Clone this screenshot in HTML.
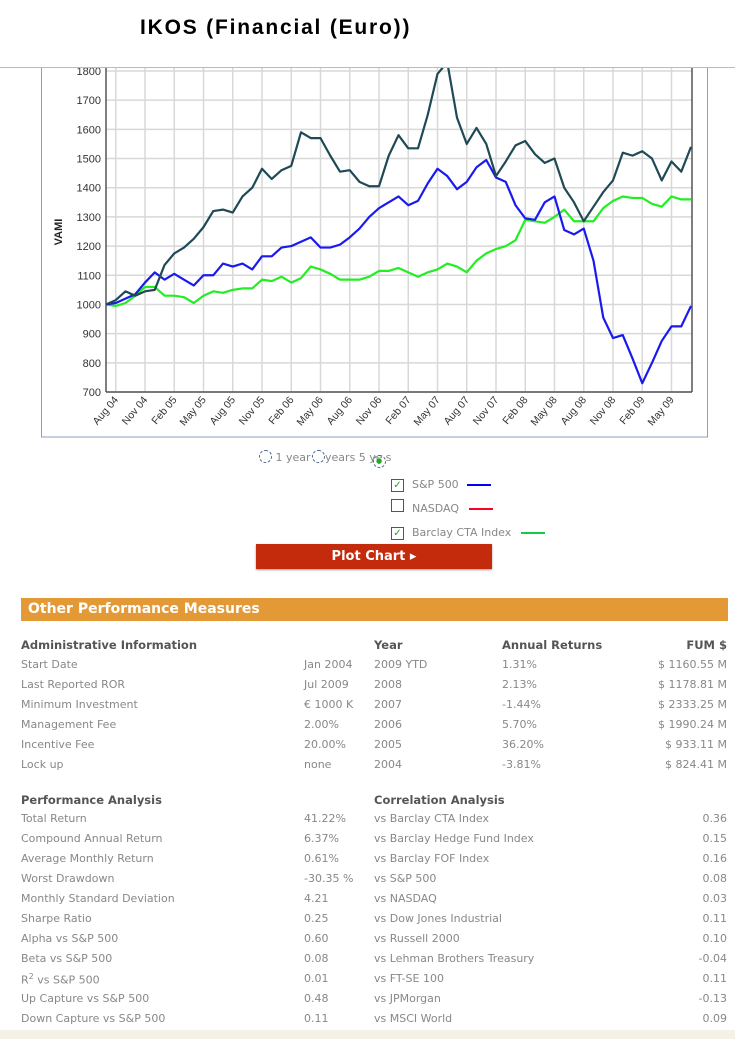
<!DOCTYPE html>
<html><head><meta charset="utf-8">
<style>
body{margin:0;width:735px;height:1039px;background:#fff;position:relative;overflow:hidden;font-family:"DejaVu Sans","Liberation Sans",sans-serif;}
.a{position:absolute;white-space:nowrap;}
.t{font-size:11px;color:#888;}
.h{font-size:11.5px;color:#555;font-weight:bold;}
.r{text-align:right;}
</style></head><body>
<svg id="chart" class="a" style="left:0;top:0" width="735" height="445"></svg>
<div class="a" style="left:0;top:0;width:735px;height:67px;background:#fff;border-bottom:1px solid #bbb;z-index:2"></div>
<div class="a" style="left:140px;top:16px;font:bold 21px 'Liberation Sans',sans-serif;letter-spacing:1.8px;color:#000;z-index:3">IKOS (Financial (Euro))</div>

<div class="a t" style="left:259px;top:450px;font-size:11px;">
<span style="display:inline-block;width:11px;height:11px;border:1px dashed #4a6a90;border-radius:50%;vertical-align:-2px;"></span> 1 year
<span style="display:inline-block;width:11px;height:11px;border:1px dashed #4a6a90;border-radius:50%;vertical-align:-2px;margin-left:-2px"></span>years 5 ye<span style="display:inline-block;width:11px;height:11px;border:1px dashed #4a6a90;border-radius:50%;vertical-align:-2px;margin-left:-10px;text-align:center;font-size:7px;color:#2a2;line-height:11px">●</span>s
</div>
<div class="a" style="left:391px;top:473px;"><span style="display:inline-block;width:11px;height:11px;border:1px solid #3a5a80;font-size:10px;line-height:11px;text-align:center;color:#2a2;font-weight:bold">✓</span><span class="t" style="margin-left:8px">S&amp;P 500</span><span style="display:inline-block;width:24px;height:2px;background:#00f;margin-left:8px;vertical-align:2px"></span></div>
<div class="a" style="left:391px;top:497px;"><span style="display:inline-block;width:11px;height:11px;border:1px solid #3a5a80"></span><span class="t" style="margin-left:8px">NASDAQ</span><span style="display:inline-block;width:24px;height:2px;background:#f02;margin-left:10px;vertical-align:2px"></span></div>
<div class="a" style="left:391px;top:521px;"><span style="display:inline-block;width:11px;height:11px;border:1px solid #3a5a80;font-size:10px;line-height:11px;text-align:center;color:#2a2;font-weight:bold">✓</span><span class="t" style="margin-left:8px">Barclay CTA Index</span><span style="display:inline-block;width:24px;height:2px;background:#1c4;margin-left:10px;vertical-align:2px"></span></div>
<div class="a" style="left:256px;top:544px;width:236px;height:25px;background:#c42a0c;color:#fff;font-weight:bold;font-size:13px;line-height:25px;text-align:center;box-shadow:0 1px 2px #999;">Plot Chart ▸</div>

<div class="a" style="left:21px;top:598px;width:707px;height:23px;background:#e39a36;color:#fff;font-weight:bold;font-size:14px;line-height:23px;padding-left:7px;box-sizing:border-box;">Other Performance Measures</div>

<div id="tables"></div>
<div class="a" style="left:0;top:1030px;width:735px;height:9px;background:#f6f1e6;"></div>

<script>
const months=["Aug 04","Nov 04","Feb 05","May 05","Aug 05","Nov 05","Feb 06","May 06","Aug 06","Nov 06","Feb 07","May 07","Aug 07","Nov 07","Feb 08","May 08","Aug 08","Nov 08","Feb 09","May 09"];
const yTicks=[700,800,900,1000,1100,1200,1300,1400,1500,1600,1700,1800];
const fund=[1000,1015,1045,1030,1045,1050,1135,1175,1195,1225,1265,1320,1325,1315,1370,1400,1465,1430,1460,1475,1590,1570,1570,1510,1455,1460,1420,1405,1405,1510,1580,1535,1535,1650,1790,1830,1640,1550,1605,1550,1440,1490,1545,1560,1515,1485,1500,1400,1350,1285,1335,1385,1425,1520,1510,1525,1500,1425,1490,1455,1540];
const sp500=[1000,1005,1020,1035,1075,1110,1085,1105,1085,1065,1100,1100,1140,1130,1140,1120,1165,1165,1195,1200,1215,1230,1195,1195,1205,1230,1260,1300,1330,1350,1370,1340,1355,1415,1465,1440,1395,1420,1470,1495,1435,1420,1340,1295,1290,1350,1370,1255,1240,1260,1150,955,885,895,815,730,800,875,925,925,995];
const cta=[1000,995,1005,1030,1060,1060,1030,1030,1025,1005,1030,1045,1040,1050,1055,1055,1085,1080,1095,1075,1090,1130,1120,1105,1085,1085,1085,1095,1115,1115,1125,1110,1095,1110,1120,1140,1130,1110,1150,1175,1190,1200,1220,1290,1285,1280,1300,1325,1285,1285,1285,1330,1355,1370,1365,1365,1345,1335,1370,1360,1360];

const NS="http://www.w3.org/2000/svg";
const svg=document.getElementById('chart');
const X=i=>106+i*9.75;
const Y=v=>392-(v-700)*(321/1100);
function mk(tag,attrs){const e=document.createElementNS(NS,tag);for(const k in attrs)e.setAttribute(k,attrs[k]);svg.appendChild(e);return e;}
let e;
e=mk('rect',{x:41.5,y:40,width:666,height:397,fill:'#fff',stroke:'#8b9fc0'});


yTicks.forEach(v=>{
  e=mk('line',{x1:106,x2:692,y1:Y(v),y2:Y(v),stroke:'#d8d8d8','stroke-width':1.5});
  
  
  e=mk('text',{x:101,y:Y(v)+4,'text-anchor':'end','font-size':11,'font-family':'Liberation Sans, sans-serif',fill:'#333'});
  e.textContent=v;
  
  
});
months.forEach((m,k)=>{
  const x=X(1+k*3);
  e=mk('line',{x1:x,x2:x,y1:62,y2:392,stroke:'#d8d8d8','stroke-width':1.5});
  
  
  e=mk('text',{x:x+3,y:400,'text-anchor':'end','font-size':10.5,'font-family':'Liberation Sans, sans-serif',fill:'#333',transform:`rotate(-50 ${x+3} 400)`});
  e.textContent=m;
  
  
});
e=mk('line',{x1:106,x2:106,y1:62,y2:392,stroke:'#555','stroke-width':1.5});


e=mk('line',{x1:106,x2:692,y1:392,y2:392,stroke:'#555','stroke-width':1.5});


e=mk('line',{x1:692,x2:692,y1:62,y2:392,stroke:'#555','stroke-width':1.5});


e=mk('text',{x:62,y:232,'text-anchor':'middle','font-size':11,'font-weight':'bold','font-family':'Liberation Sans, sans-serif',fill:'#222',transform:'rotate(-90 62 232)'});
e.textContent='VAMI';


[[cta,'#22ee22','series-barclay-cta'],[sp500,'#1a1aee','series-sp500'],[fund,'#1f4a55','series-fund']].forEach(([d,c,n])=>{
  e=mk('polyline',{points:d.map((v,i)=>X(i)+','+Y(v)).join(' '),fill:'none',stroke:c,'stroke-width':2.2,'stroke-linejoin':'round'});
  
  
});

const T=document.getElementById('tables');
function txt(cls,x,y,s,name,right){const d=document.createElement('div');d.className='a '+cls+(right?' r':'');d.style.top=(y-7)+'px';if(right){d.style.right=(735-x)+'px';}else d.style.left=x+'px';d.innerHTML=s;


T.appendChild(d);}
txt('h',21,645,'Administrative Information','admin-header');
txt('h',374,645,'Year','year-header');
txt('h',502,645,'Annual Returns','annual-returns-header');
txt('h',727,645,'FUM $','fum-header',true);
const adminL=["Start Date","Last Reported ROR","Minimum Investment","Management Fee","Incentive Fee","Lock up"];
const adminV=["Jan 2004","Jul 2009","€ 1000 K","2.00%","20.00%","none"];
const years=["2009 YTD","2008","2007","2006","2005","2004"];
const ann=["1.31%","2.13%","-1.44%","5.70%","36.20%","-3.81%"];
const fum=["$ 1160.55 M","$ 1178.81 M","$ 2333.25 M","$ 1990.24 M","$ 933.11 M","$ 824.41 M"];
adminL.forEach((l,i)=>{const y=665+i*20;
 txt('t',21,y,l,'admin-label');txt('t',304,y,adminV[i],'admin-value');txt('t',374,y,years[i],'year-cell');txt('t',502,y,ann[i],'annual-return-cell');txt('t',727,y,fum[i],'fum-cell',true);});
txt('h',21,800,'Performance Analysis','performance-header');
txt('h',374,800,'Correlation Analysis','correlation-header');
const perfL=["Total Return","Compound Annual Return","Average Monthly Return","Worst Drawdown","Monthly Standard Deviation","Sharpe Ratio","Alpha vs S&amp;P 500","Beta vs S&amp;P 500","R<sup style='font-size:8px'>2</sup> vs S&amp;P 500","Up Capture vs S&amp;P 500","Down Capture vs S&amp;P 500"];
const perfV=["41.22%","6.37%","0.61%","-30.35 %","4.21","0.25","0.60","0.08","0.01","0.48","0.11"];
const corrL=["vs Barclay CTA Index","vs Barclay Hedge Fund Index","vs Barclay FOF Index","vs S&amp;P 500","vs NASDAQ","vs Dow Jones Industrial","vs Russell 2000","vs Lehman Brothers Treasury","vs FT-SE 100","vs JPMorgan","vs MSCI World"];
const corrV=["0.36","0.15","0.16","0.08","0.03","0.11","0.10","-0.04","0.11","-0.13","0.09"];
perfL.forEach((l,i)=>{const y=819+i*20;
 txt('t',21,y,l,'performance-label');txt('t',304,y,perfV[i],'performance-value');txt('t',374,y,corrL[i],'correlation-label');txt('t',727,y,corrV[i],'correlation-value',true);});
</script>
</body></html>
